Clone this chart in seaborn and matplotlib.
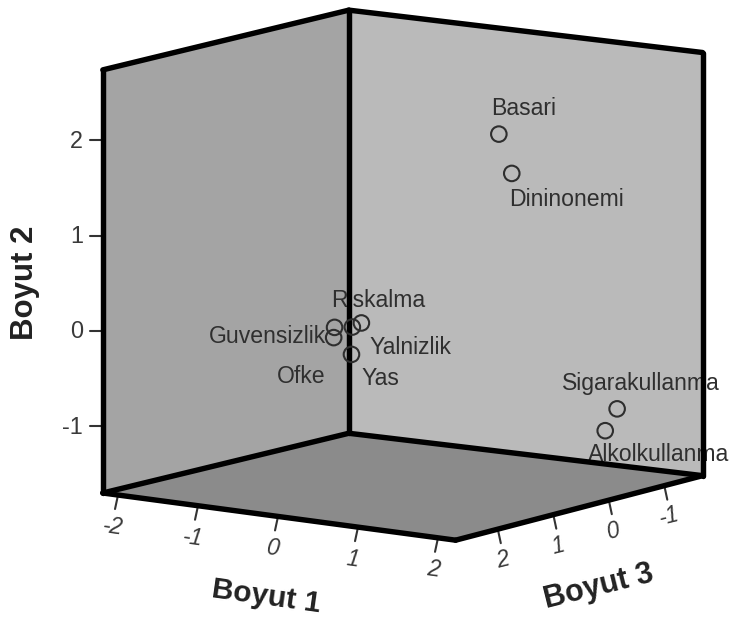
import numpy as np
import pandas as pd
import matplotlib
matplotlib.use("Agg")
import matplotlib.pyplot as plt
import seaborn as sns

# Data
labels = ["Basari", "Dininonemi", "Sigarakullanma", "Alkolkullanma", "Riskalma",
          "Yalnizlik", "Guvensizlik", "Ofke", "Yas"]
boyut1 = [1.54, 1.84, 1.77, 1.76, -0.66, -0.98, -1.34, -1.42, -1.06]
boyut2 = [2.22, 1.87, -0.91, -1.11, -0.10, -0.22, -0.29, -0.42, -0.53]
boyut3 = [1.00, 1.20, -0.80, -0.60, 0.30, 0.00, -0.20, -0.30, -0.10]
ticks1 = [-2, -1, 0, 1, 2]
ticks2 = [-1, 0, 1, 2]
ticks3 = [-1, 0, 1, 2]

# Axis ranges
u_min, u_max = -2.19, 2.22
v_min, v_max = -1.70, 2.74
z_min, z_max = -1.69, 2.76

# Layout: slightly perspective projection onto figure pixels
def proj(u, v, z):
    u, v, z = np.asarray(u, float), np.asarray(v, float), np.asarray(z, float)
    w = (u_max - u) * (z_max - z) / ((u_max - u_min) * (z_max - z_min))
    return (431.2 + 80.0 * u - 55.5 * z - 1.0 * w,
            314.4 + 10.7 * u + 14.5 * z - 95.3 * v + 4.8 * w)

sns.set_theme(style="white")
plt.rcParams["font.family"] = ["Liberation Sans", "DejaVu Sans"]

fig = plt.figure(figsize=(7.29, 6.21), dpi=100, facecolor="white")
ax = fig.add_axes([0, 0, 1, 1])
ax.set_xlim(0, 729)
ax.set_ylim(621, 0)
ax.axis("off")

def face(corners, color):
    xs, ys = proj(*zip(*corners))
    ax.fill(xs, ys, color=color, lw=0, zorder=1)

def edge(a, b, z=6):
    xs, ys = proj(*zip(a, b))
    ax.plot(xs, ys, color="black", lw=3.9, solid_capstyle="round", zorder=z)

A = (u_min, v_min, z_max); B = (u_min, v_min, z_min)
C = (u_max, v_min, z_min); D = (u_max, v_min, z_max)
A2 = (u_min, v_max, z_max); B2 = (u_min, v_max, z_min); C2 = (u_max, v_max, z_min)

face([A, B, B2, A2], "#a4a4a4")
face([B, C, C2, B2], "#bababa")
face([A, B, C, D], "#8b8b8b")

for a, b in [(A, B), (B, C), (C, D), (D, A), (A, A2), (B, B2), (C, C2), (A2, B2), (B2, C2)]:
    edge(a, b)

# Points
px, py = proj(boyut1, boyut2, boyut3)
df = pd.DataFrame({"x": px, "y": py, "label": labels})
sns.scatterplot(data=df, x="x", y="y", ax=ax, s=125, marker="o", facecolor="none",
                edgecolor="#2e2e2e", linewidth=1.5, zorder=7, legend=False)
ax.set_xlim(0, 729)
ax.set_ylim(621, 0)
ax.axis("off")

# Point label offsets (pixels, centre of text from the point)
offsets = {"Basari": (25, -26), "Dininonemi": (55, 26), "Sigarakullanma": (24, -25),
           "Alkolkullanma": (53, 24), "Riskalma": (17, -22), "Yalnizlik": (58, 20),
           "Guvensizlik": (-67, 9), "Ofke": (-32, 39), "Yas": (29, 24)}
for lab, x, y in zip(labels, px, py):
    dx, dy = offsets[lab]
    ax.text(x + dx, y + dy, lab, fontsize=16.6, color="#2f2f2f", ha="center",
            va="center", zorder=5, clip_on=False)

tick_col = "#3a3a3a"
# Boyut 2 ticks on the left edge
for t in ticks2:
    x, y = proj(u_min, t, z_max)
    ax.plot([x - 13, x], [y, y], color="#333333", lw=1.5, zorder=2)
    ax.text(x - 20, y + 1, str(t), fontsize=16.8, color=tick_col, ha="right", va="center")

# Boyut 1 ticks below the front-left floor edge
for t in ticks1:
    x, y = proj(t, v_min, z_max)
    ax.plot([x, x - 3], [y, y + 14], color="#333333", lw=1.5, zorder=2)
    ax.text(x - 5, y + 32, str(t), fontsize=16.5, color=tick_col, ha="center", va="center",
            rotation=-8, style="italic")

# Boyut 3 ticks below the front-right floor edge
for t in ticks3:
    x, y = proj(u_max, v_min, t)
    ax.plot([x, x + 3], [y, y + 14], color="#333333", lw=1.5, zorder=2)
    ax.text(x + 5, y + 31, str(t), fontsize=16.5, color=tick_col, ha="center", va="center",
            rotation=14, style="italic")

# Axis titles
ax.text(25, 283, "Boyut 2", fontsize=22.5, fontweight="bold", color="#222222",
        rotation=90, ha="center", va="center")
ax.text(266, 597, "Boyut 1", fontsize=21.5, fontweight="bold", color="#222222",
        rotation=-8, ha="center", va="center")
ax.text(599, 587, "Boyut 3", fontsize=22, fontweight="bold", color="#222222",
        rotation=14, ha="center", va="center")

fig.savefig("out.png", dpi=100)
